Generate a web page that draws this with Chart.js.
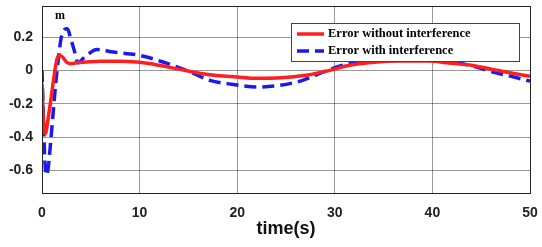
<!DOCTYPE html>
<html>
<head>
<meta charset="utf-8">
<script src="https://cdn.jsdelivr.net/npm/chart.js@4.4.0/dist/chart.umd.min.js"></script>
<style>
  html, body { margin: 0; padding: 0; background: #ffffff; }
  #wrap { width: 542px; height: 247px; }
</style>
</head>
<body>
<div id="wrap"><canvas id="errChart"></canvas></div>
<script>
  // values
  const tNoInt = [0, 0.15, 0.35, 0.6, 0.9, 1.2, 1.5, 1.75, 2.1, 2.5, 2.9, 3.5, 4.5, 6, 8, 10, 12, 14.6, 17, 20, 22, 24.5, 27, 29.5, 31.5, 34, 36.5, 39.5, 42, 44, 46.6, 48.5, 50];
  const errNoInt = [-0.08, -0.3, -0.38, -0.3, -0.18, -0.05, 0.06, 0.09, 0.08, 0.05, 0.04, 0.045, 0.05, 0.055, 0.055, 0.048, 0.03, 0.0, -0.025, -0.04, -0.048, -0.045, -0.03, 0.0, 0.03, 0.048, 0.056, 0.056, 0.042, 0.03, 0.0, -0.02, -0.036];

  const tInt = [0, 0.15, 0.3, 0.45, 0.65, 0.9, 1.15, 1.4, 1.7, 1.95, 2.3, 2.6, 2.9, 3.3, 3.7, 4.2, 4.8, 5.6, 7.3, 10, 12.4, 15.2, 17.2, 19.6, 22, 24.4, 26.7, 29.5, 31.5, 34, 37, 39.7, 42.5, 44.5, 46.2, 48, 50];
  const errInt = [0.0, -0.3, -0.55, -0.63, -0.58, -0.42, -0.25, -0.08, 0.08, 0.19, 0.245, 0.25, 0.2, 0.12, 0.045, 0.07, 0.1, 0.125, 0.11, 0.09, 0.05, -0.01, -0.06, -0.085, -0.1, -0.09, -0.06, 0.006, 0.04, 0.055, 0.06, 0.06, 0.045, 0.02, -0.01, -0.035, -0.065];

  const xTicks = [0, 10, 20, 30, 40, 50];
  const yTicks = [-0.6, -0.4, -0.2, 0, 0.2];
  const seriesNames = ['Error without interference', 'Error with interference'];
  const unitLabel = 'm';

  const RED = '#ff1f1f';
  const BLUE = '#1a1af0';

  function toPoints(xs, ys) {
    return xs.map((x, i) => ({ x: x, y: ys[i] }));
  }

  // box, legend and unit text, MATLAB style
  const boxLegend = {
    id: 'boxLegend',
    afterDraw(chart) {
      const { ctx, chartArea: a } = chart;
      ctx.save();
      ctx.strokeStyle = '#222';
      ctx.lineWidth = 1;
      ctx.strokeRect(a.left + 0.5, a.top + 0.5, a.right - a.left, a.bottom - a.top);

      ctx.fillStyle = '#000';
      ctx.font = 'bold 12px "Liberation Serif", serif';
      ctx.textBaseline = 'middle';
      ctx.fillText(unitLabel, a.left + 13, a.top + 10);

      // legend box
      const lx = 291, ly = 23, lw = 228, lh = 38;
      ctx.fillStyle = '#fff';
      ctx.fillRect(lx, ly, lw, lh);
      ctx.strokeStyle = '#444';
      ctx.strokeRect(lx + 0.5, ly + 0.5, lw, lh);

      chart.data.datasets.forEach((ds, i) => {
        const y = ly + 11 + i * 17;
        ctx.beginPath();
        ctx.strokeStyle = ds.borderColor;
        ctx.lineWidth = ds.borderWidth;
        ctx.setLineDash(ds.borderDash || []);
        ctx.moveTo(lx + 6, y);
        ctx.lineTo(lx + 33, y);
        ctx.stroke();
        ctx.setLineDash([]);
        ctx.fillStyle = '#000';
        ctx.font = 'bold 12.5px "Liberation Serif", serif';
        ctx.fillText(ds.label, lx + 37, y);
      });
      ctx.restore();
    }
  };

  new Chart(document.getElementById('errChart'), {
    type: 'line',
    data: {
      datasets: [{
        label: seriesNames[0],
        data: toPoints(tNoInt, errNoInt),
        borderColor: RED,
        borderWidth: 3.5,
        pointRadius: 0,
        fill: false,
        cubicInterpolationMode: 'monotone'
      }, {
        label: seriesNames[1],
        data: toPoints(tInt, errInt),
        borderColor: BLUE,
        borderWidth: 3.5,
        borderDash: [12, 6],
        pointRadius: 0,
        fill: false,
        cubicInterpolationMode: 'monotone'
      }]
    },
    options: {
      responsive: true,
      maintainAspectRatio: false,
      animation: false,
      layout: { padding: { top: 6, right: 12, bottom: 0, left: 0 } },
      scales: {
        x: {
          type: 'linear',
          min: 0,
          max: 50,
          afterBuildTicks: (s) => { s.ticks = xTicks.map(v => ({ value: v })); },
          afterFit: (s) => { s.height = 54; s.paddingLeft = 0; s.paddingRight = 0; },
          grid: { color: 'rgba(0,0,0,0.4)', lineWidth: 1, drawTicks: false },
          border: { display: false },
          ticks: {
            padding: 12,
            color: '#222',
            font: { family: '"Liberation Sans", Arial, sans-serif', size: 14, weight: 'bold' },
            maxRotation: 0
          },
          title: {
            display: true,
            text: 'time(s)',
            color: '#111',
            padding: { top: 0, bottom: 7 },
            font: { family: '"Liberation Sans", Arial, sans-serif', size: 18, weight: 'bold' }
          }
        },
        y: {
          min: -0.736,
          max: 0.386,
          afterBuildTicks: (s) => { s.ticks = yTicks.map(v => ({ value: v })); },
          afterFit: (s) => { s.width = 42; s.paddingTop = 0; s.paddingBottom = 0; },
          grid: { color: 'rgba(0,0,0,0.4)', lineWidth: 1, drawTicks: false },
          border: { display: false },
          ticks: {
            padding: 9,
            color: '#222',
            font: { family: '"Liberation Sans", Arial, sans-serif', size: 14, weight: 'bold' },
            callback: (v) => String(Math.round(v * 10) / 10)
          }
        }
      },
      plugins: {
        legend: { display: false },
        tooltip: { enabled: false }
      }
    },
    plugins: [boxLegend]
  });
</script>
</body>
</html>
